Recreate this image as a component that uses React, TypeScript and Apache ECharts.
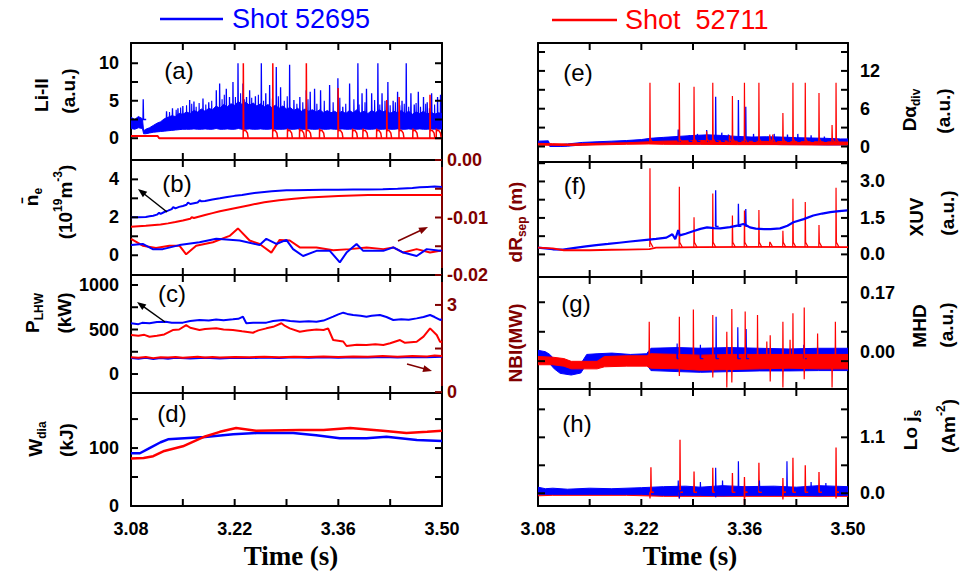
import React, { useEffect, useRef } from 'react';
import * as echarts from 'echarts';

const BLUE = '#0000ff';
const RED = '#ff0000';
const DARK = '#800000';
const FONT = 'Liberation Sans';

const timeTicks = [3.08, 3.15, 3.22, 3.29, 3.36, 3.43, 3.5];
const timeLabels = [3.08, 3.22, 3.36, 3.5];

const liBlueBand = [
  [3.080, 1.3, 2.8], [3.085, 1.2, 2.5], [3.090, 1.4, 2.9], [3.0955, 1.3, 2.6], [3.097, 0.6, 1.0], [3.100, 0.6, 1.2],
  [3.105, 0.7, 1.4], [3.110, 0.8, 1.7], [3.115, 0.85, 2.0], [3.120, 0.9, 2.2], [3.125, 0.95, 2.6], [3.130, 1.0, 2.8],
  [3.135, 1.05, 3.0], [3.140, 1.1, 2.9], [3.145, 1.15, 3.3], [3.150, 1.2, 3.2], [3.155, 1.2, 3.5], [3.160, 1.2, 3.3],
  [3.165, 1.25, 3.7], [3.170, 1.2, 3.5], [3.175, 1.2, 3.9], [3.180, 1.25, 3.6], [3.185, 1.2, 4.0], [3.190, 1.2, 3.8],
  [3.195, 1.3, 4.3], [3.200, 1.2, 4.0], [3.205, 1.2, 4.5], [3.210, 1.25, 4.2], [3.215, 1.2, 4.6], [3.220, 1.2, 4.4],
  [3.225, 1.3, 4.9], [3.230, 1.2, 4.5], [3.235, 1.2, 4.8], [3.240, 1.25, 4.4], [3.245, 1.2, 4.7], [3.250, 1.2, 4.3],
  [3.255, 1.25, 4.6], [3.260, 1.2, 4.2], [3.265, 1.2, 4.5], [3.270, 1.25, 4.1], [3.275, 1.2, 4.4], [3.280, 1.2, 4.0],
  [3.285, 1.2, 4.3], [3.290, 1.25, 3.9], [3.295, 1.2, 4.1], [3.300, 1.2, 3.7], [3.305, 1.25, 4.0], [3.310, 1.2, 3.6],
  [3.315, 1.2, 3.9], [3.320, 1.25, 3.6], [3.325, 1.2, 3.8], [3.330, 1.2, 3.5], [3.335, 1.25, 3.8], [3.340, 1.2, 3.4],
  [3.345, 1.2, 3.7], [3.350, 1.25, 3.4], [3.355, 1.2, 3.6], [3.360, 1.2, 3.3], [3.365, 1.25, 3.6], [3.370, 1.2, 3.3],
  [3.375, 1.2, 3.7], [3.380, 1.25, 3.4], [3.385, 1.2, 3.8], [3.390, 1.2, 3.4], [3.395, 1.25, 3.6], [3.400, 1.2, 3.3],
  [3.405, 1.2, 3.7], [3.410, 1.25, 3.4], [3.415, 1.2, 3.8], [3.420, 1.2, 3.5], [3.425, 1.25, 3.7], [3.430, 1.2, 3.3],
  [3.435, 1.2, 3.6], [3.440, 1.25, 3.4], [3.445, 1.2, 3.7], [3.450, 1.2, 3.3], [3.455, 1.25, 3.6], [3.460, 1.2, 3.2],
  [3.465, 1.2, 3.5], [3.470, 1.25, 3.3], [3.475, 1.2, 3.6], [3.480, 1.2, 3.2], [3.485, 1.25, 3.5], [3.490, 1.2, 3.2],
  [3.495, 1.2, 3.4], [3.500, 1.25, 3.3],
];
const liBlueSpikes = [
  [3.0965, 5.2], [3.128, 3.6], [3.136, 4.0], [3.1434, 4.0], [3.150, 4.3], [3.1592, 5.1], [3.165, 4.9], [3.1772, 5.3],
  [3.185, 4.8], [3.1952, 6.4], [3.1997, 7.3], [3.2087, 6.6], [3.213, 5.5], [3.2177, 7.5], [3.2245, 10], [3.2312, 7.3],
  [3.236, 5.5], [3.2402, 6.4], [3.248, 5.6], [3.256, 10], [3.262, 6.0], [3.2672, 7.1], [3.2762, 9.5], [3.282, 6.8],
  [3.2942, 9.8], [3.300, 5.1], [3.308, 5.5], [3.3167, 6.4], [3.322, 6.2], [3.3279, 6.6], [3.336, 6.4], [3.3482, 7.1],
  [3.3594, 8.0], [3.366, 4.2], [3.3752, 7.3], [3.3864, 10], [3.392, 6.0], [3.398, 6.6], [3.405, 6.0], [3.4134, 10],
  [3.419, 6.0], [3.4269, 7.5], [3.434, 5.0], [3.440, 6.2], [3.446, 5.0], [3.4517, 10], [3.458, 6.0], [3.4625, 4.5],
  [3.468, 6.2], [3.475, 5.5], [3.480, 4.8], [3.486, 6.0], [3.494, 5.5], [3.498, 5.8],
];
const liBlueSmallSpikes = [
  [3.132, 3.5], [3.141, 3.8], [3.147, 4.1], [3.155, 4.4], [3.162, 4.6], [3.168, 4.2], [3.172, 4.7], [3.181, 4.5],
  [3.189, 5.0], [3.203, 5.2], [3.206, 5.8], [3.221, 5.5], [3.228, 6.0], [3.233, 5.2], [3.243, 5.4], [3.252, 5.8],
  [3.259, 5.0], [3.271, 5.3], [3.279, 5.6], [3.287, 5.0], [3.291, 5.6], [3.304, 4.6], [3.312, 4.8], [3.319, 5.2],
  [3.331, 4.6], [3.341, 5.0], [3.353, 4.8], [3.362, 5.4], [3.370, 4.6], [3.381, 5.2], [3.388, 4.5], [3.396, 4.8],
  [3.409, 5.1], [3.416, 4.5], [3.423, 5.0], [3.430, 4.4], [3.437, 4.8], [3.443, 4.4], [3.449, 4.6], [3.455, 4.2],
  [3.465, 4.7], [3.471, 4.2], [3.478, 4.6], [3.483, 4.0], [3.490, 4.5],
];
const liRedBase = [[3.08, 0.3], [3.116, 0.3], [3.118, 0.0], [3.5, 0.0]];
const liRedElms = [
  [3.2317, 10], [3.2715, 10], [3.2914, 1.3], [3.3077, 1.3], [3.3168, 10], [3.3347, 1.3], [3.3597, 6.7], [3.3793, 1.3],
  [3.3933, 1.3], [3.4118, 1.3], [3.4254, 5.1], [3.4421, 5.5], [3.4607, 1.3], [3.4838, 5.8], [3.4924, 1.3],
];

const neBlue = [
  [3.08, 2.0], [3.09, 2.0], [3.10, 2.02], [3.105, 2.05], [3.11, 2.08], [3.115, 2.14], [3.118, 2.24], [3.12, 2.18],
  [3.125, 2.28], [3.13, 2.35], [3.135, 2.43], [3.137, 2.54], [3.14, 2.47], [3.145, 2.55], [3.15, 2.6], [3.155, 2.66],
  [3.157, 2.78], [3.16, 2.7], [3.17, 2.78], [3.173, 2.9], [3.175, 2.84], [3.18, 2.86], [3.19, 2.94], [3.20, 3.0],
  [3.21, 3.07], [3.22, 3.13], [3.23, 3.18], [3.24, 3.24], [3.25, 3.3], [3.26, 3.34], [3.27, 3.37], [3.28, 3.4],
  [3.29, 3.42], [3.30, 3.43], [3.32, 3.44], [3.34, 3.45], [3.36, 3.45], [3.38, 3.46], [3.40, 3.47], [3.42, 3.48],
  [3.44, 3.5], [3.46, 3.55], [3.47, 3.58], [3.48, 3.6], [3.49, 3.62], [3.50, 3.6],
];
const neRed = [
  [3.08, 1.5], [3.10, 1.55], [3.12, 1.62], [3.13, 1.68], [3.14, 1.75], [3.15, 1.83], [3.16, 1.92], [3.162, 2.0],
  [3.165, 1.96], [3.17, 2.02], [3.18, 2.12], [3.19, 2.22], [3.20, 2.32], [3.21, 2.4], [3.22, 2.48], [3.23, 2.56],
  [3.24, 2.64], [3.25, 2.72], [3.26, 2.79], [3.27, 2.85], [3.28, 2.9], [3.29, 2.94], [3.30, 2.98], [3.32, 3.04],
  [3.34, 3.08], [3.36, 3.12], [3.38, 3.15], [3.40, 3.17], [3.44, 3.17], [3.48, 3.18], [3.50, 3.18],
];
const dRsepBlue = [
  [3.080, -0.0148], [3.0958, -0.0146], [3.1093, -0.0155], [3.1229, -0.0155], [3.1454, -0.0148], [3.1725, -0.0143],
  [3.1951, -0.0137], [3.2267, -0.014], [3.2537, -0.0148], [3.2628, -0.0137], [3.2763, -0.0146], [3.2898, -0.0139],
  [3.2989, -0.0155], [3.3124, -0.0167], [3.3305, -0.0158], [3.3485, -0.0158], [3.362, -0.0178], [3.3711, -0.0161],
  [3.3846, -0.0146], [3.3936, -0.0158], [3.4207, -0.0158], [3.4342, -0.0152], [3.4478, -0.0161], [3.4658, -0.0167],
  [3.4794, -0.0155], [3.4974, -0.0158], [3.5, -0.0157],
];
const dRsepRed = [
  [3.080, -0.0137], [3.0958, -0.0149], [3.1138, -0.0153], [3.1319, -0.0149], [3.1454, -0.0149], [3.1545, -0.0164],
  [3.168, -0.0149], [3.1906, -0.0143], [3.2131, -0.0132], [3.2244, -0.0119], [3.2402, -0.014], [3.2537, -0.0146],
  [3.2695, -0.0161], [3.2808, -0.0139], [3.2944, -0.014], [3.3079, -0.0152], [3.3305, -0.0152], [3.3531, -0.0157],
  [3.3756, -0.0155], [3.3982, -0.0152], [3.4207, -0.0155], [3.4342, -0.0152], [3.4478, -0.0161], [3.4658, -0.0155],
  [3.4839, -0.0161], [3.4974, -0.0158], [3.5, -0.0158],
];

const pBlue = [
  [3.08, 570], [3.09, 560], [3.095, 575], [3.105, 570], [3.115, 585], [3.127, 588], [3.135, 575], [3.15, 577],
  [3.16, 595], [3.1725, 607], [3.185, 600], [3.195, 612], [3.205, 605], [3.2176, 614], [3.225, 620], [3.2312, 644],
  [3.2357, 570], [3.245, 575], [3.2628, 577], [3.272, 595], [3.2853, 607], [3.295, 595], [3.3079, 588], [3.32, 592],
  [3.3305, 588], [3.34, 600], [3.353, 644], [3.36, 670], [3.3666, 689], [3.372, 675], [3.38, 663], [3.39, 655],
  [3.398, 644], [3.405, 655], [3.4162, 663], [3.425, 640], [3.4342, 607], [3.445, 615], [3.455, 610], [3.4658, 625],
  [3.475, 640], [3.4839, 663], [3.49, 640], [3.4974, 607], [3.5, 615],
];
const pRed = [
  [3.08, 438], [3.09, 430], [3.098, 440], [3.105, 419], [3.115, 430], [3.125, 445], [3.1364, 494], [3.145, 500],
  [3.1545, 550], [3.16, 520], [3.1725, 494], [3.18, 505], [3.1951, 513], [3.205, 500], [3.2176, 494], [3.23, 480],
  [3.2447, 464], [3.252, 490], [3.2628, 513], [3.272, 530], [3.2831, 570], [3.288, 540], [3.2944, 513], [3.3079, 475],
  [3.318, 490], [3.3305, 500], [3.34, 495], [3.3462, 513], [3.353, 382], [3.3666, 365], [3.3711, 315], [3.385, 330],
  [3.398, 326], [3.41, 335], [3.4207, 326], [3.43, 345], [3.4433, 382], [3.45, 350], [3.4658, 363], [3.475, 420],
  [3.4839, 513], [3.4929, 438], [3.4974, 363], [3.5, 360],
];
const nbiBlue = [
  [3.08, 1.17], [3.09, 1.15], [3.10, 1.18], [3.11, 1.14], [3.12, 1.17], [3.13, 1.15], [3.14, 1.18], [3.16, 1.16],
  [3.18, 1.18], [3.20, 1.16], [3.22, 1.18], [3.24, 1.17], [3.26, 1.19], [3.28, 1.17], [3.30, 1.2], [3.32, 1.18],
  [3.34, 1.2], [3.36, 1.18], [3.38, 1.2], [3.40, 1.19], [3.42, 1.21], [3.44, 1.19], [3.46, 1.21], [3.48, 1.2], [3.50, 1.22],
];
const nbiRed = [
  [3.08, 1.2], [3.09, 1.18], [3.10, 1.21], [3.11, 1.17], [3.12, 1.2], [3.13, 1.19], [3.14, 1.21], [3.15, 1.18],
  [3.16, 1.2], [3.17, 1.22], [3.18, 1.19], [3.19, 1.21], [3.20, 1.19], [3.22, 1.21], [3.24, 1.2], [3.26, 1.22],
  [3.28, 1.2], [3.30, 1.22], [3.32, 1.21], [3.34, 1.23], [3.36, 1.21], [3.38, 1.23], [3.40, 1.22], [3.42, 1.24],
  [3.44, 1.22], [3.46, 1.24], [3.48, 1.23], [3.49, 1.26], [3.50, 1.24],
];

const wBlue = [
  [3.08, 91], [3.092, 91], [3.105, 100], [3.12, 110], [3.13, 115], [3.152, 117], [3.18, 119], [3.218, 124],
  [3.25, 126], [3.299, 126], [3.33, 122], [3.362, 117], [3.398, 117], [3.425, 119.5], [3.466, 114], [3.5, 112],
];
const wRed = [
  [3.08, 82], [3.097, 83], [3.11, 86], [3.125, 95], [3.15, 103], [3.18, 120], [3.2, 128], [3.222, 134.5],
  [3.249, 130], [3.308, 131], [3.34, 131], [3.376, 134.5], [3.42, 130], [3.452, 126], [3.48, 128], [3.5, 130],
];

const daBlueBand = [
  [3.080, 0.35, 0.85], [3.094, 0.35, 0.9], [3.096, 0.0, 0.35], [3.110, 0.0, 0.3], [3.120, 0.05, 0.4], [3.140, 0.25, 0.65],
  [3.160, 0.35, 0.75], [3.180, 0.45, 0.85], [3.200, 0.5, 0.95], [3.220, 0.5, 1.1], [3.232, 0.5, 1.3], [3.250, 0.45, 1.45],
  [3.270, 0.4, 1.6], [3.290, 0.4, 1.75], [3.310, 0.4, 1.85], [3.330, 0.4, 1.75], [3.350, 0.4, 1.6], [3.370, 0.35, 1.5],
  [3.390, 0.35, 1.55], [3.410, 0.3, 1.5], [3.430, 0.3, 1.4], [3.450, 0.3, 1.35], [3.470, 0.25, 1.3], [3.490, 0.25, 1.2],
  [3.500, 0.25, 1.2],
];
const daRedBand = [
  [3.080, 0.2, 0.5], [3.100, 0.2, 0.45], [3.120, 0.15, 0.4], [3.160, 0.25, 0.5], [3.200, 0.35, 0.6], [3.230, 0.4, 0.75],
  [3.250, 0.35, 0.85], [3.300, 0.35, 0.95], [3.350, 0.3, 0.85], [3.400, 0.3, 0.8], [3.450, 0.25, 0.75], [3.500, 0.25, 0.7],
];
const daBlueSpikes = [
  [3.270, 2.7], [3.285, 1.8], [3.296, 2.0], [3.3085, 2.6], [3.3207, 7.9], [3.329, 2.2], [3.338, 1.9], [3.3515, 7.4],
  [3.3615, 6.3], [3.372, 2.0], [3.400, 2.0], [3.418, 1.9], [3.432, 2.0], [3.450, 1.8], [3.468, 1.6],
];
const daRedSpikes = [
  [3.2317, 10.1], [3.2715, 10.1], [3.2914, 9.5], [3.3085, 2.4], [3.3168, 10.1], [3.3393, 1.8], [3.3434, 8.0],
  [3.3597, 10.1], [3.3793, 10.1], [3.394, 1.9], [3.398, 1.9], [3.4118, 5.3], [3.4254, 10.1], [3.4421, 10.1],
  [3.4607, 8.5], [3.4784, 3.4], [3.4838, 10.1],
];

const xuvBlue = [
  [3.08, 0.28], [3.09, 0.25], [3.10, 0.21], [3.114, 0.2], [3.13, 0.27], [3.145, 0.33], [3.159, 0.38], [3.175, 0.43],
  [3.19, 0.48], [3.205, 0.53], [3.227, 0.6], [3.24, 0.64], [3.254, 0.69], [3.262, 0.83], [3.266, 0.63], [3.270, 1.0],
  [3.272, 0.78], [3.28, 0.85], [3.29, 0.95], [3.30, 1.05], [3.309, 1.11], [3.318, 1.08], [3.327, 1.07], [3.34, 1.12],
  [3.35, 1.18], [3.358, 1.25], [3.362, 1.2], [3.367, 1.11], [3.375, 1.06], [3.386, 1.04], [3.395, 1.04], [3.408, 1.07],
  [3.418, 1.18], [3.426, 1.32], [3.44, 1.45], [3.453, 1.6], [3.465, 1.68], [3.476, 1.74], [3.488, 1.78], [3.499, 1.81],
];
const xuvBlueSpikes = [[3.3207, 2.64], [3.3515, 2.08], [3.3615, 1.87]];
const xuvRedBase = [
  [3.08, 0.28], [3.10, 0.25], [3.115, 0.17], [3.15, 0.17], [3.18, 0.19], [3.20, 0.2], [3.231, 0.22], [3.24, 0.28],
  [3.30, 0.3], [3.40, 0.31], [3.50, 0.3],
];
const xuvRedSpikes = [
  [3.2317, 3.54], [3.2715, 2.78], [3.2914, 1.53], [3.3168, 2.5], [3.3434, 1.6], [3.3597, 1.8], [3.3793, 1.83],
  [3.394, 0.5], [3.4118, 0.97], [3.4254, 2.29], [3.4421, 2.15], [3.4607, 1.21], [3.4838, 2.74],
];

const mhdBlueBand = [
  [3.080, -0.022, 0.004], [3.090, -0.028, 0.0], [3.096, -0.035, -0.008], [3.102, -0.05, -0.022], [3.110, -0.063, -0.035],
  [3.125, -0.068, -0.04], [3.138, -0.062, -0.035], [3.146, -0.035, -0.008], [3.160, -0.03, -0.006], [3.180, -0.028, -0.004],
  [3.205, -0.032, -0.008], [3.227, -0.036, -0.006], [3.233, -0.055, 0.01], [3.270, -0.058, 0.012], [3.300, -0.06, 0.01],
  [3.340, -0.058, 0.012], [3.380, -0.056, 0.01], [3.420, -0.056, 0.008], [3.460, -0.055, 0.01], [3.500, -0.055, 0.01],
];
const mhdRedBand = [
  [3.080, -0.038, -0.014], [3.100, -0.038, -0.016], [3.115, -0.042, -0.02], [3.125, -0.05, -0.028], [3.160, -0.05, -0.028],
  [3.170, -0.044, -0.014], [3.200, -0.042, -0.012], [3.227, -0.042, -0.012], [3.233, -0.048, -0.006], [3.270, -0.05, -0.008],
  [3.300, -0.054, -0.01], [3.340, -0.052, -0.008], [3.380, -0.05, -0.008], [3.420, -0.048, -0.008], [3.460, -0.05, -0.008],
  [3.500, -0.05, -0.008],
];
const mhdBlueSpikes = [[3.2685, 0.024], [3.300, 0.02], [3.3213, 0.102], [3.3507, 0.071], [3.362, 0.066], [3.440, 0.02]];
const mhdRedSpikes = [
  [3.2307, 0.087], [3.2715, 0.102], [3.2905, 0.123], [3.3168, 0.107], [3.3358, 0.058], [3.3426, 0.124], [3.3607, 0.117],
  [3.3774, 0.107], [3.390, 0.03], [3.3946, 0.048], [3.4118, 0.087], [3.4215, 0.035], [3.4254, 0.112], [3.4407, 0.129],
  [3.4588, 0.053], [3.4829, 0.087],
  [3.2715, -0.071], [3.3168, -0.075], [3.3358, -0.104], [3.3426, -0.09], [3.3946, -0.087], [3.4118, -0.104],
  [3.4407, -0.08], [3.4784, -0.104],
];

const jsBlueBand = [
  [3.080, -0.02, 0.12], [3.090, -0.02, 0.09], [3.100, -0.02, 0.1], [3.120, -0.02, 0.08], [3.150, -0.02, 0.1],
  [3.180, -0.02, 0.09], [3.220, -0.02, 0.11], [3.250, -0.04, 0.13], [3.280, -0.04, 0.14], [3.300, -0.04, 0.12],
  [3.330, -0.05, 0.15], [3.360, -0.04, 0.13], [3.400, -0.04, 0.14], [3.430, -0.04, 0.12], [3.460, -0.05, 0.15],
  [3.500, -0.04, 0.13],
];
const jsRedBand = [
  [3.080, -0.05, 0.07], [3.100, -0.04, 0.05], [3.200, -0.04, 0.07], [3.250, -0.06, 0.08], [3.500, -0.06, 0.08],
];
const jsBlueSpikes = [
  [3.27, 0.25], [3.30, 0.22], [3.3207, 0.5], [3.33, 0.25], [3.3515, 0.63], [3.38, 0.25], [3.4173, 0.63], [3.45, 0.22],
  [3.47, 0.2], [3.2715, -0.1], [3.3207, -0.08],
];
const jsRedSpikes = [
  [3.233, 0.51], [3.2724, 1.05], [3.2914, 0.43], [3.3168, 0.5], [3.3434, 0.4], [3.3597, 0.32], [3.3793, 0.6],
  [3.4118, 0.3], [3.4254, 0.7], [3.4421, 0.55], [3.4607, 0.42], [3.4838, 0.9],
  [3.2317, -0.1], [3.2715, -0.1], [3.3597, -0.23], [3.4118, -0.12], [3.4838, -0.1],
];

const grids = [
  { left: 131, top: 43, width: 311, height: 117 },
  { left: 131, top: 160, width: 311, height: 115 },
  { left: 131, top: 275, width: 311, height: 118 },
  { left: 131, top: 393, width: 311, height: 113 },
  { left: 538, top: 43, width: 310, height: 119 },
  { left: 538, top: 162, width: 310, height: 115 },
  { left: 538, top: 277, width: 310, height: 112 },
  { left: 538, top: 389, width: 310, height: 117 },
];

const yA = { min: -2.9, max: 12.7, ticks: [0, 2.5, 5, 7.5, 10], labels: [0, 5, 10] };
const yB = { min: -1.04, max: 5.02, ticks: [0, 1, 2, 3, 4], labels: [0, 2, 4] };
const yBr = { min: -0.02, max: 0, ticks: [-0.02, -0.015, -0.01, -0.005, 0], labels: [-0.02, -0.01, 0] };
const yC = { min: -213, max: 1112, ticks: [0, 250, 500, 750, 1000], labels: [0, 500, 1000] };
const yCr = { min: -0.03, max: 4.03, ticks: [0, 1.5, 3], labels: [0, 3] };
const yD = { min: 0, max: 195, ticks: [0, 50, 100, 150], labels: [0, 100] };
const yE = { min: -2.46, max: 16.43, ticks: [0, 3, 6, 9, 12, 15], labels: [0, 6, 12] };
const yF = { min: -0.93, max: 3.8, ticks: [0, 0.75, 1.5, 2.25, 3, 3.75], labels: [0, 1.5, 3] };
const yG = { min: -0.1086, max: 0.2175, ticks: [-0.0275, 0.058, 0.144], labels: [0, 0.17] };
const yH = { min: -0.25, max: 2.05, ticks: [0, 0.55, 1.1, 1.65], labels: [0, 1.1] };

const xAx = (gi: number, position: string, showLabel: boolean) => ({
  type: 'value', gridIndex: gi, position, min: 3.08, max: 3.5,
  axisLine: { show: true, onZero: false, lineStyle: { color: '#000', width: 2 } },
  axisTick: { show: false },
  axisLabel: {
    show: showLabel, customValues: timeLabels, formatter: (v: number) => v.toFixed(2), margin: 14,
    fontSize: 18, fontWeight: 'bold', color: '#000', fontFamily: FONT,
  },
  splitLine: { show: false },
});

const yAx = (gi: number, position: string, s: any, fmt: (v: number) => string, color: string, showLabel: boolean, margin: number) => ({
  type: 'value', gridIndex: gi, position, min: s.min, max: s.max,
  axisLine: { show: true, onZero: false, lineStyle: { color, width: 2 } },
  axisTick: { show: false },
  axisLabel: {
    show: showLabel, customValues: s.labels, formatter: fmt, margin, fontSize: 18, fontWeight: 'bold', color, fontFamily: FONT,
  },
  splitLine: { show: false },
});

const str = (v: number) => String(v);
const f1 = (v: number) => v.toFixed(1);
const f2 = (v: number) => v.toFixed(2);

const line = (xi: number, yi: number, data: any[], color: string, width = 2) => ({
  type: 'line', xAxisIndex: xi, yAxisIndex: yi, data, symbol: 'none', showSymbol: false, silent: true,
  lineStyle: { color, width }, itemStyle: { color }, z: 3, clip: true,
});

const band = (xi: number, yi: number, rows: number[][], color: string) => ({
  type: 'custom', xAxisIndex: xi, yAxisIndex: yi, silent: true, clip: true, z: 3,
  data: [[rows[0][0], rows[0][1]]],
  renderItem: (_p: any, api: any) => {
    const pts: number[][] = [];
    for (const r of rows) pts.push(api.coord([r[0], r[1]]));
    for (let i = rows.length - 1; i >= 0; i--) pts.push(api.coord([rows[i][0], rows[i][2]]));
    return { type: 'polygon', shape: { points: pts }, style: { fill: color, stroke: color, lineWidth: 1 } };
  },
});

const spikes = (xi: number, yi: number, list: number[][], base: number, color: string, width = 1.2, tail = 0) => ({
  type: 'custom', xAxisIndex: xi, yAxisIndex: yi, silent: true, clip: true, z: 3,
  data: list,
  renderItem: (_p: any, api: any) => {
    const t = api.value(0);
    const v = api.value(1);
    const pts = [
      api.coord([t - 0.0003, base]), api.coord([t, v]), api.coord([t + 0.0005, base + tail]), api.coord([t + 0.004, base]),
    ];
    return { type: 'polyline', shape: { points: pts }, style: { stroke: color, lineWidth: width, fill: null } };
  },
});

const elms = (xi: number, yi: number, list: number[][], color: string) => ({
  type: 'custom', xAxisIndex: xi, yAxisIndex: yi, silent: true, clip: true, z: 3,
  data: list,
  renderItem: (_p: any, api: any) => {
    const t = api.value(0);
    const v = api.value(1);
    const shape = [[t - 0.0002, 0], [t, v], [t + 0.0005, 1.0], [t + 0.003, 1.05], [t + 0.0055, 0.7], [t + 0.0065, 0.05]];
    return {
      type: 'polyline', shape: { points: shape.map((q) => api.coord(q)) },
      style: { stroke: color, lineWidth: 1.5, fill: null },
    };
  },
});

// tick layout per panel: [xAxisIndex, yAxisIndex, scale, leftAxisIdx, rightAxisIdx, rightScale, rightColor]
const tickPanels: any[] = [
  [0, 0, yA, 0, 1, yA, '#000'],
  [2, 2, yB, 2, 3, yBr, DARK],
  [4, 4, yC, 4, 5, yCr, DARK],
  [6, 6, yD, 6, 7, yD, '#000'],
  [8, 8, yE, 9, 8, yE, '#000'],
  [10, 10, yF, 11, 10, yF, '#000'],
  [12, 12, yG, 13, 12, yG, '#000'],
  [14, 14, yH, 15, 14, yH, '#000'],
];

// inward tick marks as small filled rectangles, placed through the chart's own axis scales
function buildTicks(chart: any) {
  const els: any[] = [];
  const L = 7;
  const W = 2;
  const box = (x: number, y: number, w: number, h: number, color: string) => {
    if ([x, y, w, h].every((n) => typeof n === 'number' && isFinite(n))) {
      els.push({ type: 'rect', silent: true, z: 50, shape: { x, y, width: w, height: h }, style: { fill: color } });
    }
  };
  for (const [xi, yi, s, lyi, ryi, rs, rcol] of tickPanels) {
    const yBot = chart.convertToPixel({ yAxisIndex: yi }, s.min);
    const yTop = chart.convertToPixel({ yAxisIndex: yi }, s.max);
    const xL = chart.convertToPixel({ xAxisIndex: xi }, 3.08);
    const xR = chart.convertToPixel({ xAxisIndex: xi }, 3.5);
    for (const t of timeTicks) {
      const px = chart.convertToPixel({ xAxisIndex: xi }, t);
      box(px - W / 2, yBot - L, W, L, '#000');
      box(px - W / 2, yTop, W, L, '#000');
    }
    for (const v of s.ticks) {
      const py = chart.convertToPixel({ yAxisIndex: lyi }, v);
      box(xL, py - W / 2, L, W, '#000');
    }
    for (const v of rs.ticks) {
      const py = chart.convertToPixel({ yAxisIndex: ryi }, v);
      box(xR - L, py - W / 2, L, W, rcol);
    }
  }
  return els;
}

const rich = (color: string) => ({
  b: { fontSize: 19, fontWeight: 'bold', fontFamily: FONT, fill: color, lineHeight: 26, verticalAlign: 'middle' },
  sub: { fontSize: 12, fontWeight: 'bold', fontFamily: FONT, fill: color, verticalAlign: 'bottom' },
  sup: { fontSize: 12, fontWeight: 'bold', fontFamily: FONT, fill: color, verticalAlign: 'top' },
});

const vText = (x: number, y: number, text: string, color = '#000') => ({
  type: 'text', x, y, rotation: Math.PI / 2, silent: true, z: 10,
  style: {
    text, x: 0, y: 0, align: 'center', verticalAlign: 'middle', fontFamily: FONT, fontSize: 19,
    fontWeight: 'bold', fill: color, rich: rich(color),
  },
});

const hText = (x: number, y: number, text: string, size: number, color: string, opts: any = {}) => ({
  type: 'text', x, y, silent: true, z: 10,
  style: {
    text, x: 0, y: 0, align: opts.align || 'center', verticalAlign: 'middle', fontFamily: opts.family || FONT,
    fontSize: size, fontWeight: opts.weight || 'normal', fill: color,
  },
});

const arrow = (x1: number, y1: number, x2: number, y2: number, color: string) => {
  const dx = x2 - x1;
  const dy = y2 - y1;
  const len = Math.sqrt(dx * dx + dy * dy);
  const ux = dx / len;
  const uy = dy / len;
  const px = -uy;
  const py = ux;
  const hl = 9;
  const hw = 3.5;
  return [
    { type: 'line', silent: true, z: 10, shape: { x1, y1, x2: x2 - ux * hl * 0.8, y2: y2 - uy * hl * 0.8 }, style: { stroke: color, lineWidth: 1.5 } },
    {
      type: 'polygon', silent: true, z: 10,
      shape: { points: [[x2, y2], [x2 - ux * hl + px * hw, y2 - uy * hl + py * hw], [x2 - ux * hl - px * hw, y2 - uy * hl - py * hw]] },
      style: { fill: color },
    },
  ];
};

const baseElements = (): any[] => [
  { type: 'line', silent: true, shape: { x1: 160, y1: 19, x2: 223, y2: 19 }, style: { stroke: BLUE, lineWidth: 2.5 } },
  hText(232, 19, 'Shot 52695', 27, BLUE, { align: 'left' }),
  { type: 'line', silent: true, shape: { x1: 552, y1: 20, x2: 617, y2: 20 }, style: { stroke: RED, lineWidth: 2.5 } },
  hText(625, 20, 'Shot  52711', 27, RED, { align: 'left' }),
  hText(179, 70, '(a)', 24, '#000'),
  hText(177, 183, '(b)', 24, '#000'),
  hText(172, 293, '(c)', 24, '#000'),
  hText(172, 413, '(d)', 24, '#000'),
  hText(578, 72, '(e)', 24, '#000'),
  hText(575, 185, '(f)', 24, '#000'),
  hText(576, 303, '(g)', 24, '#000'),
  hText(577, 423, '(h)', 24, '#000'),
  vText(41, 95, '{b|Li-II}'),
  vText(68, 91, '{b|(a.u.)}'),
  vText(31, 197, '{b|n\u0304}{sub|e}'),
  vText(65, 202, '{b|(10}{sup|19}{b|m}{sup|-3}{b|)}'),
  vText(32, 313, '{b|P}{sub|LHW}'),
  vText(64, 313, '{b|(kW)}'),
  vText(35, 439, '{b|W}{sub|dia}'),
  vText(66, 440, '{b|(kJ)}'),
  vText(515, 222, '{b|dR}{sub|sep}{b| (m)}', DARK),
  vText(515, 343, '{b|NBI(MW)}', DARK),
  vText(909, 110, '{b|D\u03b1}{sub|div}'),
  vText(943, 111, '{b|(a.u.)}'),
  vText(916, 217, '{b|XUV}'),
  vText(947, 213, '{b|(a.u.)}'),
  vText(919, 326, '{b|MHD}'),
  vText(946, 325, '{b|(a.u.)}'),
  vText(910, 430, '{b|Lo j}{sub|s}'),
  vText(948, 426, '{b|(Am}{sup|-2}{b|)}'),
  hText(291, 556, 'Time (s)', 27, '#000', { family: 'Liberation Serif', weight: 'bold' }),
  hText(690, 556, 'Time (s)', 27, '#000', { family: 'Liberation Serif', weight: 'bold' }),
  ...arrow(167, 212, 138, 189, '#000'),
  ...arrow(398, 241, 428, 227, DARK),
  ...arrow(165, 322, 137, 302, '#000'),
  ...arrow(407, 364, 432, 371, DARK),
];

function buildOption() {
  const xAxis: any[] = [];
  grids.forEach((_g, i) => {
    xAxis.push(xAx(i, 'bottom', i === 3 || i === 7));
    xAxis.push(xAx(i, 'top', false));
  });
  const yAxis = [
    yAx(0, 'left', yA, str, '#000', true, 12),
    yAx(0, 'right', yA, str, '#000', false, 8),
    yAx(1, 'left', yB, str, '#000', true, 12),
    yAx(1, 'right', yBr, f2, DARK, true, 5),
    yAx(2, 'left', yC, str, '#000', true, 12),
    yAx(2, 'right', yCr, str, DARK, true, 5),
    yAx(3, 'left', yD, str, '#000', true, 12),
    yAx(3, 'right', yD, str, '#000', false, 8),
    yAx(4, 'right', yE, str, '#000', true, 12),
    yAx(4, 'left', yE, str, '#000', false, 8),
    yAx(5, 'right', yF, f1, '#000', true, 12),
    yAx(5, 'left', yF, f1, '#000', false, 8),
    yAx(6, 'right', yG, f2, '#000', true, 12),
    yAx(6, 'left', yG, f2, '#000', false, 8),
    yAx(7, 'right', yH, f1, '#000', true, 12),
    yAx(7, 'left', yH, f1, '#000', false, 8),
  ];

  const series = [
    band(0, 0, liBlueBand, BLUE),
    spikes(0, 0, liBlueSmallSpikes, 2.5, BLUE, 1.1),
    spikes(0, 0, liBlueSpikes, 2.5, BLUE, 1.3),
    line(0, 0, liRedBase, RED, 2),
    elms(0, 0, liRedElms, RED),
    line(2, 2, neBlue, BLUE, 2),
    line(2, 2, neRed, RED, 2),
    line(2, 3, dRsepRed, RED, 2),
    line(2, 3, dRsepBlue, BLUE, 2),
    line(4, 4, pBlue, BLUE, 2),
    line(4, 4, pRed, RED, 2),
    line(4, 5, nbiBlue, BLUE, 2),
    line(4, 5, nbiRed, RED, 2),
    line(6, 6, wBlue, BLUE, 2.5),
    line(6, 6, wRed, RED, 2.5),
    band(8, 8, daBlueBand, BLUE),
    band(8, 8, daRedBand, RED),
    spikes(8, 8, daBlueSpikes, 0.8, BLUE, 1.3),
    spikes(8, 8, daRedSpikes, 0.6, RED, 1.2, 0.6),
    line(10, 10, xuvBlue, BLUE, 2.2),
    spikes(10, 10, xuvBlueSpikes, 1.15, BLUE, 1.3),
    line(10, 10, xuvRedBase, RED, 1.8),
    spikes(10, 10, xuvRedSpikes, 0.3, RED, 1.2, 0.2),
    band(12, 12, mhdBlueBand, BLUE),
    band(12, 12, mhdRedBand, RED),
    spikes(12, 12, mhdBlueSpikes, -0.02, BLUE, 1.2),
    spikes(12, 12, mhdRedSpikes, -0.03, RED, 1.2),
    band(14, 14, jsRedBand, RED),
    band(14, 14, jsBlueBand, BLUE),
    spikes(14, 14, jsRedSpikes, 0.02, RED, 1.3),
    spikes(14, 14, jsBlueSpikes, 0.05, BLUE, 1.2),
  ];

  return {
    animation: false,
    backgroundColor: '#fff',
    textStyle: { fontFamily: FONT },
    grid: grids.map((g) => ({ ...g, show: false, containLabel: false, outerBoundsMode: 'none' })),
    xAxis,
    yAxis,
    series,
    graphic: { elements: baseElements() },
  };
}

export default function App() {
  const ref = useRef<HTMLDivElement>(null);
  useEffect(() => {
    if (!ref.current) return;
    const chart = echarts.init(ref.current, null, { renderer: 'svg' });
    chart.setOption(buildOption() as any);
    let ticks: any[] = [];
    try {
      ticks = buildTicks(chart);
    } catch (e) {
      ticks = [];
    }
    chart.setOption({ graphic: { elements: [...baseElements(), ...ticks] } } as any);
    return () => chart.dispose();
  }, []);
  return (
    <div
      ref={ref}
      style={{ position: 'fixed', left: 0, top: 0, width: 963, height: 573, background: '#fff' }}
    />
  );
}
